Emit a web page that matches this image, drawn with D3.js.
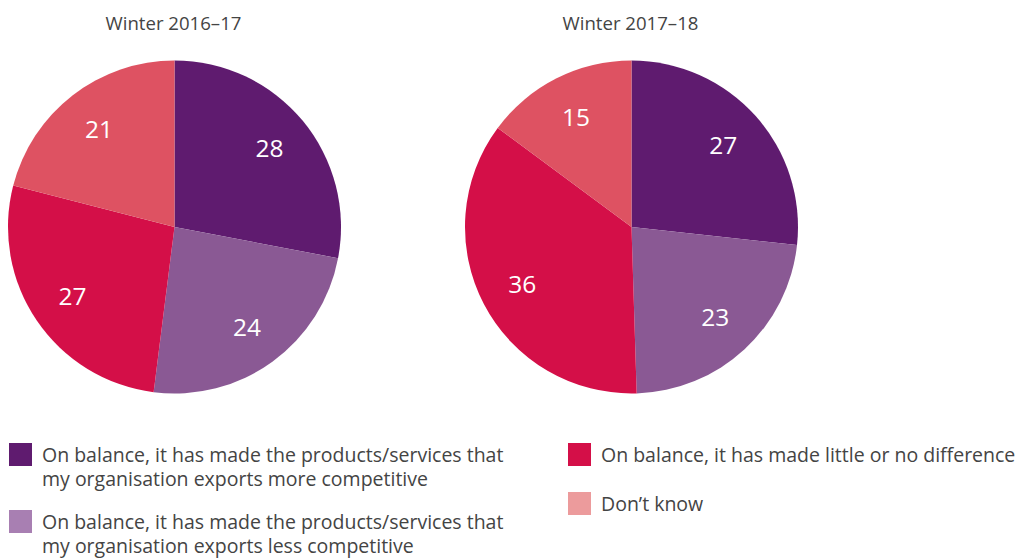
<!DOCTYPE html>
<html>
<head>
<meta charset="utf-8">
<script src="https://cdn.jsdelivr.net/npm/d3@7"></script>
<style>
  html, body { margin: 0; padding: 0; background: #fff; }
  svg { display: block; }
  text { font-family: "Open Sans", "Noto Sans", sans-serif; }
</style>
</head>
<body>
<svg id="chart" width="1025" height="558"></svg>
<script>
// Survey answers, share of respondents (%)
const categories = [
  "On balance, it has made the products/services that my organisation exports more competitive",
  "On balance, it has made the products/services that my organisation exports less competitive",
  "On balance, it has made little or no difference",
  "Don’t know"
];
const periods = ["Winter 2016–17", "Winter 2017–18"];
const values2016 = [28, 24, 27, 21];
const values2017 = [27, 23, 36, 15];

const sliceColors = ["#5f1b6f", "#8a5994", "#d40f48", "#de5262"];
const legendColors = ["#5f1b6f", "#a87fb2", "#d40f48", "#ec9b9c"];
const legendLines = [
  ["On balance, it has made the products/services that", "my organisation exports more competitive"],
  ["On balance, it has made the products/services that", "my organisation exports less competitive"],
  ["On balance, it has made little or no difference"],
  ["Don’t know"]
];

const svg = d3.select("#chart");
const color = d3.scaleOrdinal().domain(categories).range(sliceColors);
const legendColor = d3.scaleOrdinal().domain(categories).range(legendColors);

const radius = 166.5;
const pie = d3.pie().sort(null).value(d => d.value);
const arc = d3.arc().innerRadius(0).outerRadius(radius);
const labelArc = d3.arc().innerRadius(radius * 0.74).outerRadius(radius * 0.74);

const pies = [
  { title: periods[0], values: values2016, cx: 174.5, cy: 227 },
  { title: periods[1], values: values2017, cx: 631.5, cy: 227 }
];

pies.forEach(p => {
  const data = categories.map((c, i) => ({ cat: c, value: p.values[i] }));
  const g = svg.append("g").attr("transform", `translate(${p.cx},${p.cy})`);
  const arcs = pie(data);
  g.selectAll("path").data(arcs).join("path")
    .attr("d", arc)
    .attr("fill", d => color(d.data.cat));
  g.selectAll("text.val").data(arcs).join("text")
    .attr("class", "val")
    .attr("transform", d => `translate(${labelArc.centroid(d)})`)
    .attr("text-anchor", "middle")
    .attr("dy", "0.36em")
    .attr("fill", "#fff")
    .attr("font-size", 24.5)
    .text(d => d.data.value);
  svg.append("text")
    .attr("x", p.cx - 1)
    .attr("y", 30)
    .attr("text-anchor", "middle")
    .attr("fill", "#444")
    .attr("font-size", 18.6)
    .text(p.title);
});

// Legend: two columns
const legendPos = [
  { x: 9, y: 443 },
  { x: 9, y: 510 },
  { x: 568, y: 443 },
  { x: 568, y: 492 }
];
categories.forEach((c, i) => {
  const lg = svg.append("g").attr("transform", `translate(${legendPos[i].x},${legendPos[i].y})`);
  lg.append("rect").attr("width", 23).attr("height", 23).attr("fill", legendColor(c));
  const t = lg.append("text")
    .attr("x", 33)
    .attr("y", 19)
    .attr("fill", "#444")
    .attr("font-size", 19.5);
  legendLines[i].forEach((line, j) => {
    t.append("tspan").attr("x", 33).attr("dy", j === 0 ? 0 : 24).text(line);
  });
});
</script>
</body>
</html>
